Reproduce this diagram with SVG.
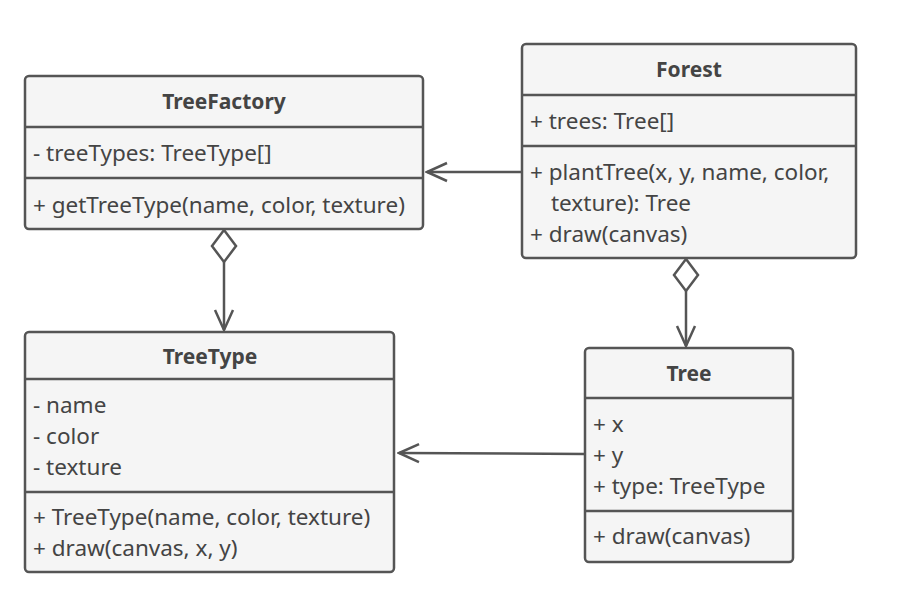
<svg xmlns="http://www.w3.org/2000/svg" width="922" height="616" viewBox="0 0 922 616">
<style>
.box{fill:#f5f5f5;stroke:#555;stroke-width:2.5}
.div{stroke:#555;stroke-width:2.5}
.t{font-family:"Noto Sans","Open Sans",sans-serif;font-size:22.5px;fill:#444}
.h{font-family:"Noto Sans","Open Sans",sans-serif;font-size:21px;font-weight:bold;fill:#444;text-anchor:middle}
.c{stroke:#555;stroke-width:2.5;fill:none}
</style>
<defs>
<marker id="open" markerWidth="24" markerHeight="24" viewBox="0 0 24 24" refX="22" refY="12" orient="auto" markerUnits="userSpaceOnUse">
<path d="M2,3 L22,12 L2,21" fill="none" stroke="#555" stroke-width="2.5"/>
</marker>
</defs>
<rect width="922" height="616" fill="#fff"/>
<g id="TreeFactory">
<rect class="box" x="25" y="76" width="398" height="153" rx="4"/>
<line class="div" x1="25" y1="127" x2="423" y2="127"/>
<line class="div" x1="25" y1="178" x2="423" y2="178"/>
<text class="h" x="224" y="109">TreeFactory</text>
<text class="t" x="33" y="161">- treeTypes: TreeType[]</text>
<text class="t" x="33" y="213">+ getTreeType(name, color, texture)</text>
</g>
<g id="Forest">
<rect class="box" x="522" y="44" width="334" height="214" rx="4"/>
<line class="div" x1="522" y1="95" x2="856" y2="95"/>
<line class="div" x1="522" y1="146" x2="856" y2="146"/>
<text class="h" x="689" y="77">Forest</text>
<text class="t" x="530" y="129">+ trees: Tree[]</text>
<text class="t" x="530" y="180">+ plantTree(x, y, name, color,</text>
<text class="t" x="551" y="211">texture): Tree</text>
<text class="t" x="530" y="242">+ draw(canvas)</text>
</g>
<g id="TreeType">
<rect class="box" x="25" y="332" width="369" height="240" rx="4"/>
<line class="div" x1="25" y1="379" x2="394" y2="379"/>
<line class="div" x1="25" y1="492" x2="394" y2="492"/>
<text class="h" x="210" y="364">TreeType</text>
<text class="t" x="33" y="413">- name</text>
<text class="t" x="33" y="444">- color</text>
<text class="t" x="33" y="475">- texture</text>
<text class="t" x="33" y="525">+ TreeType(name, color, texture)</text>
<text class="t" x="33" y="556">+ draw(canvas, x, y)</text>
</g>
<g id="Tree">
<rect class="box" x="585" y="348" width="208" height="214" rx="4"/>
<line class="div" x1="585" y1="398" x2="793" y2="398"/>
<line class="div" x1="585" y1="511" x2="793" y2="511"/>
<text class="h" x="689" y="381">Tree</text>
<text class="t" x="593" y="432">+ x</text>
<text class="t" x="593" y="463">+ y</text>
<text class="t" x="593" y="494">+ type: TreeType</text>
<text class="t" x="593" y="544">+ draw(canvas)</text>
</g>
<g id="connectors">
<line class="c" x1="522" y1="172" x2="427" y2="172" marker-end="url(#open)"/>
<line class="c" x1="585" y1="454" x2="399" y2="453" marker-end="url(#open)"/>
<path class="c" d="M224,230 L236,246 L224,262 L212,246 Z"/>
<line class="c" x1="224" y1="262" x2="224" y2="330" marker-end="url(#open)"/>
<path class="c" d="M686,259 L698,275 L686,291 L674,275 Z"/>
<line class="c" x1="686" y1="291" x2="686" y2="346" marker-end="url(#open)"/>
</g>
</svg>
